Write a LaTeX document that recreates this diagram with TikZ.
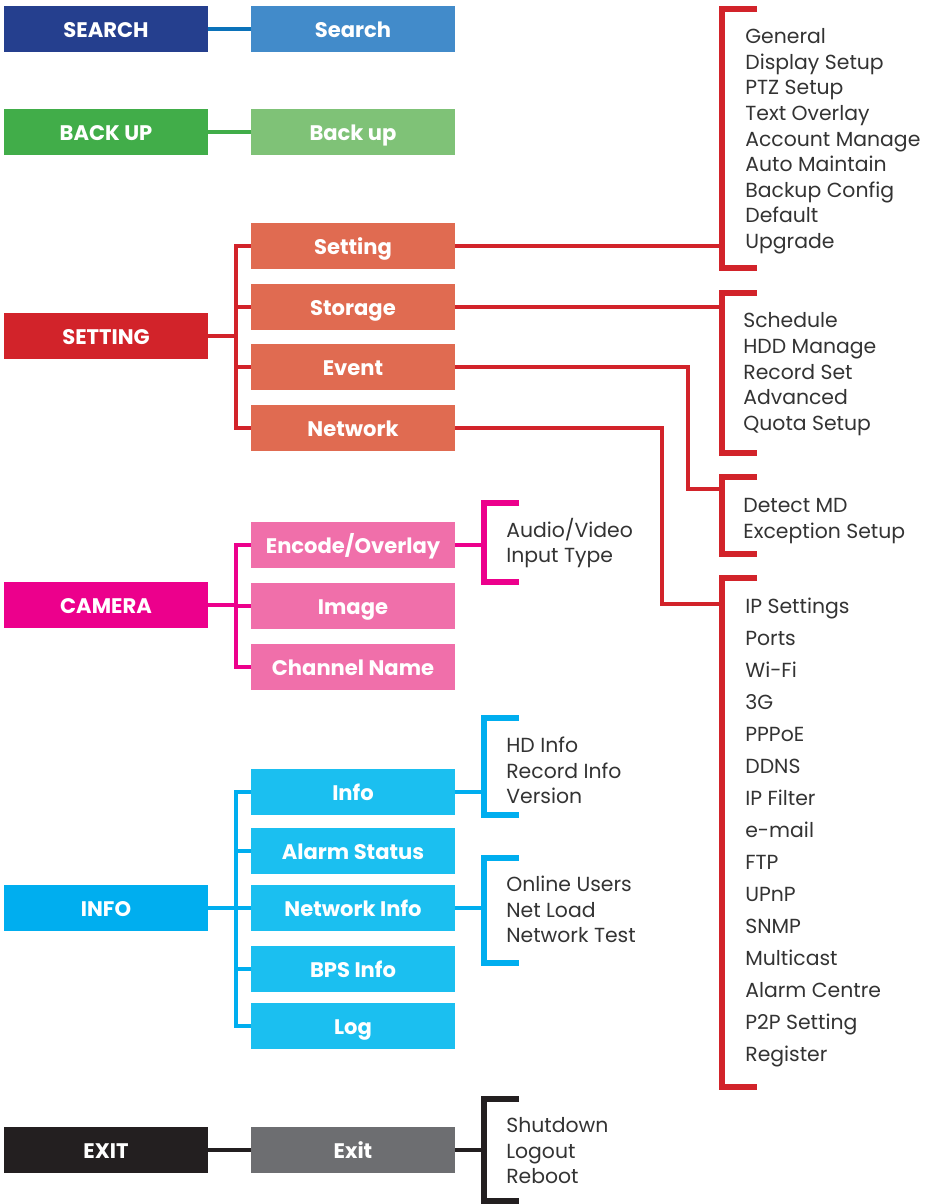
\documentclass[tikz,border=0pt]{standalone}
\usepackage{fontspec}
\setmainfont{Poppins}
\usepackage{xcolor}
\usetikzlibrary{positioning, calc}
\definecolor{searchdark}{HTML}{253F8E}
\definecolor{searchlight}{HTML}{428BCA}
\definecolor{searchline}{HTML}{0B72B9}
\definecolor{backdark}{HTML}{41AD49}
\definecolor{backlight}{HTML}{7FC277}
\definecolor{setdark}{HTML}{D2232A}
\definecolor{setlight}{HTML}{E06B51}
\definecolor{camdark}{HTML}{EC008C}
\definecolor{camlight}{HTML}{F06FAA}
\definecolor{infodark}{HTML}{00AEEF}
\definecolor{infolight}{HTML}{1BBFF0}
\definecolor{exitdark}{HTML}{231F20}
\definecolor{exitlight}{HTML}{6D6E71}
\definecolor{itemgray}{HTML}{333333}

\begin{document}
\begin{tikzpicture}[x=0.02cm, y=-0.02cm,
    menubox/.style={fill=#1, text=white, minimum width=4.08cm, minimum height=0.93cm,
        inner sep=0pt, text height=2.0ex, text depth=.3ex,
        font=\bfseries\fontsize{12}{13}\selectfont},
    item/.style={anchor=west, inner sep=0pt, text=itemgray, text height=1.9ex, text depth=.3ex,
        font=\fontsize{11.6}{13}\selectfont},
    ln/.style={draw=#1, line width=2.4pt},
    brk/.style={draw=#1, line width=3pt}]
    \useasboundingbox (0,0) rectangle (930,1204);

    % main menu column
    \node[menubox=searchdark] (mSearch)  at (106,29)   {SEARCH};
    \node[menubox=backdark]   (mBackup)  at (106,132)  {BACK UP};
    \node[menubox=setdark]    (mSetting) at (106,336)  {SETTING};
    \node[menubox=camdark]    (mCamera)  at (106,605)  {CAMERA};
    \node[menubox=infodark]   (mInfo)    at (106,908)  {INFO};
    \node[menubox=exitdark]   (mExit)    at (106,1150) {EXIT};

    % sub menus
    \node[menubox=searchlight] (sSearch)  at (353,29)   {Search};
    \node[menubox=backlight]   (sBackup)  at (353,132)  {Back up};
    \node[menubox=setlight]    (sSetting) at (353,246)  {Setting};
    \node[menubox=setlight]    (sStorage) at (353,307)  {Storage};
    \node[menubox=setlight]    (sEvent)   at (353,367)  {Event};
    \node[menubox=setlight]    (sNetwork) at (353,428)  {Network};
    \node[menubox=camlight]    (sEncode)  at (353,545)  {Encode/Overlay};
    \node[menubox=camlight]    (sImage)   at (353,606)  {Image};
    \node[menubox=camlight]    (sChannel) at (353,667)  {Channel Name};
    \node[menubox=infolight]   (sInfo)    at (353,792)  {Info};
    \node[menubox=infolight]   (sAlarm)   at (353,851)  {Alarm Status};
    \node[menubox=infolight]   (sNetinfo) at (353,908)  {Network Info};
    \node[menubox=infolight]   (sBps)     at (353,969)  {BPS Info};
    \node[menubox=infolight]   (sLog)     at (353,1026) {Log};
    \node[menubox=exitlight]   (sExit)    at (353,1150) {Exit};

    % main -> sub
    \draw[ln=searchline] (mSearch.east) -- (sSearch.west);
    \draw[ln=backdark] (mBackup.east) -- (sBackup.west);
    \draw[ln=exitdark] (mExit.east) -- (sExit.west);
    \draw[ln=setdark] (sSetting.west) -- ++(-15,0) coordinate (tSet) |- (sNetwork.west);
    \draw[ln=setdark] (mSetting.east) -- (mSetting.east -| tSet);
    \foreach \n in {sStorage, sEvent}
        \draw[ln=setdark] (\n.west) -- (\n.west -| tSet);
    \draw[ln=camdark] (sEncode.west) -- ++(-15,0) coordinate (tCam) |- (sChannel.west);
    \draw[ln=camdark] (mCamera.east) -- (mCamera.east -| tCam);
    \draw[ln=camdark] (sImage.west) -- (sImage.west -| tCam);
    \draw[ln=infodark] (sInfo.west) -- ++(-15,0) coordinate (tInfo) |- (sLog.west);
    \draw[ln=infodark] (mInfo.east) -- (mInfo.east -| tInfo);
    \foreach \n in {sAlarm, sNetinfo, sBps}
        \draw[ln=infodark] (\n.west) -- (\n.west -| tInfo);

    % brackets
    \foreach \x/\a/\b/\c in {722/9/268/setdark, 722/293/453/setdark, 722/477/554/setdark,
        722/578/1087/setdark, 484/503/582/camdark, 484/718/815/infodark,
        484/858/963/infodark, 484/1099/1201/exitdark}
        \draw[brk=\c] (\x+35,\a) -- (\x,\a) -- (\x,\b) -- (\x+35,\b);
    \coordinate (bRight) at (722,0);
    \coordinate (bLeft) at (484,0);

    % sub -> bracket
    \draw[ln=setdark] (sSetting.east) -- (sSetting.east -| bRight);
    \draw[ln=setdark] (sStorage.east) -- (sStorage.east -| bRight);
    \draw[ln=setdark] (sEvent.east) -| (688,489) -- (bRight |- 0,489);
    \draw[ln=setdark] (sNetwork.east) -| (662,604) -- (bRight |- 0,604);
    \draw[ln=camdark] (sEncode.east) -- (sEncode.east -| bLeft);
    \draw[ln=infodark] (sInfo.east) -- (sInfo.east -| bLeft);
    \draw[ln=infodark] (sNetinfo.east) -- (sNetinfo.east -| bLeft);
    \draw[ln=exitdark] (sExit.east) -- (sExit.east -| bLeft);

    % item lists
    \foreach \t [count=\i from 0] in {General, Display Setup, PTZ Setup, Text Overlay,
        Account Manage, Auto Maintain, Backup Config, Default, Upgrade}
        \node[item] (gen\i) at (745,36+25.6*\i) {\t};
    \foreach \t [count=\i from 0] in {Schedule, HDD Manage, Record Set, Advanced, Quota Setup}
        \node[item] (sto\i) at (743,320+25.75*\i) {\t};
    \foreach \t [count=\i from 0] in {Detect MD, Exception Setup}
        \node[item] (evt\i) at (743,505+26*\i) {\t};
    \foreach \t [count=\i from 0] in {IP Settings, Ports, Wi-Fi, 3G, PPPoE, DDNS, IP Filter,
        e-mail, FTP, UPnP, SNMP, Multicast, Alarm Centre, P2P Setting, Register}
        \node[item] (net\i) at (745,606+32*\i) {\t};
    \foreach \t [count=\i from 0] in {Audio/Video, Input Type}
        \node[item] (enc\i) at (506,530+25*\i) {\t};
    \foreach \t [count=\i from 0] in {HD Info, Record Info, Version}
        \node[item] (inf\i) at (506,745+25.5*\i) {\t};
    \foreach \t [count=\i from 0] in {Online Users, Net Load, Network Test}
        \node[item] (nin\i) at (506,884+25.5*\i) {\t};
    \foreach \t [count=\i from 0] in {Shutdown, Logout, Reboot}
        \node[item] (ext\i) at (506,1125+25.5*\i) {\t};
\end{tikzpicture}
\end{document}
